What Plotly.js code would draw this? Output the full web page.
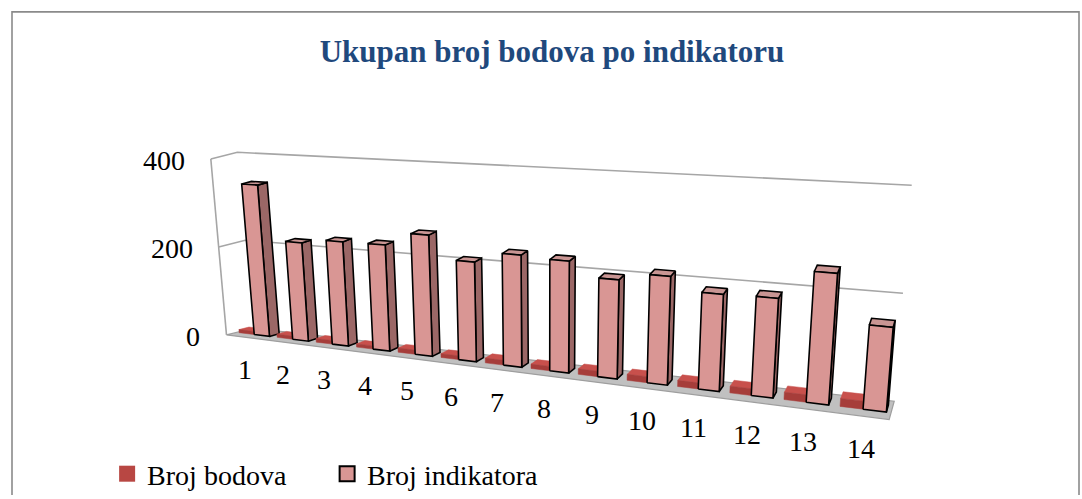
<!DOCTYPE html>
<html><head><meta charset="utf-8">
<script src="https://cdn.plot.ly/plotly-3.0.1.min.js"></script>
<style>html,body{margin:0;padding:0;background:#fff}#chart{width:1082px;height:499px}
.legendtext{font-family:'Liberation Serif','Times New Roman',serif !important;}</style>
</head><body><div id="chart"></div>
<script>
// ---- data ----
const categories = ['1','2','3','4','5','6','7','8','9','10','11','12','13','14'];
const brojBodova = [7,7,8,7,9,8,10,9,11,12,12,13,14,15];
const brojIndikatora = [340,218,228,229,258,209,232,228,199,215,189,191,248,157];
const valueTicks = [0,200,400];
const seriesNames = ['Broj bodova','Broj indikatora'];
const chartTitle = 'Ukupan broj bodova po indikatoru';

// ---- 3-D perspective helper (layout only) ----
const R = 1.237;
function warp(t){ return t/(R-(R-1)*t); }
const F1=[243.6,339.8], FN=[859.6,419.2];
const DL=[26,-7], DR=[6,-18];
const VL=[-0.037,-0.446], VR=[0.04,-0.54];
const N = categories.length;
function proj(u,d,v){
  const G = warp((u-1)/(N-1));
  const L=(a,b)=>a+(b-a)*G;
  return [L(F1[0],FN[0]) + d*L(DL[0],DR[0]) + v*L(VL[0],VR[0]),
          L(F1[1],FN[1]) + d*L(DL[1],DR[1]) + v*L(VL[1],VR[1])];
}
const uL=0.55, uR=N+0.5, BW=0.4, D0=0.38, D1=0.76;
const vMax = valueTicks[valueTicks.length-1];

function poly(pts){ const x=[],y=[]; pts.forEach(p=>{const q=proj(p[0],p[1],p[2]);x.push(q[0]);y.push(q[1]);}); x.push(x[0]); y.push(y[0]); return [x,y]; }
function faces(vals, offs){
  const f={front:{x:[],y:[]},top:{x:[],y:[]},side:{x:[],y:[]}};
  vals.forEach((h,i)=>{
    const u0=i+1+offs, u1=u0+BW;
    const add=(k,pts)=>{const [x,y]=poly(pts); f[k].x.push(...x,null); f[k].y.push(...y,null);};
    add('side',[[u1,D0,0],[u1,D1,0],[u1,D1,h],[u1,D0,h]]);
    add('top',[[u0,D0,h],[u1,D0,h],[u1,D1,h],[u0,D1,h]]);
    add('front',[[u0,D0,0],[u1,D0,0],[u1,D0,h],[u0,D0,h]]);
  });
  return f;
}
const red = faces(brojBodova, -BW+0.02);
const pink = faces(brojIndikatora, 0.02);

const traces = [];
// floor
(function(){
  const [fx,fy]=poly([[uL,0,0],[uR,0,0],[uR,1,0],[uL,1,0]]);
  traces.push({x:fx,y:fy,mode:'lines',fill:'toself',fillcolor:'#c0c0c0',line:{color:'#9e9e9e',width:1.2},showlegend:false,hoverinfo:'skip'});
})();
// walls / gridlines
(function(){
  const gx=[],gy=[];
  const push=(pts)=>{pts.forEach(p=>{const q=proj(p[0],p[1],p[2]);gx.push(q[0]);gy.push(q[1]);}); gx.push(null); gy.push(null);};
  push([[uL,0,0],[uL,0,vMax]]);
  valueTicks.filter(v=>v>0).forEach(v=>push([[uL,0,v],[uL,1,v],[uR,1,v]]));
  traces.unshift({x:gx,y:gy,mode:'lines',line:{color:'#a6a6a6',width:1.6},showlegend:false,hoverinfo:'skip'});
})();
const sty = {
  redside:'#8a3431', redtop:'#c8504c', redfront:'#a63d3a',
  pinkside:'#9b6766', pinktop:'#c99593', pinkfront:'#d99694'
};
['side','top','front'].forEach(k=>{
  traces.push({x:red[k].x,y:red[k].y,mode:'lines',fill:'toself',fillcolor:sty['red'+k],line:{color:sty['red'+k],width:0.5},showlegend:false,hoverinfo:'skip'});
  traces.push({x:pink[k].x,y:pink[k].y,mode:'lines',fill:'toself',fillcolor:sty['pink'+k],line:{color:'#000',width:1.6},showlegend:false,hoverinfo:'skip'});
});
// legend entries
traces.push({x:[null],y:[null],mode:'markers',name:seriesNames[0],marker:{symbol:'square',size:16,color:'#b84743'}});
traces.push({x:[null],y:[null],mode:'markers',name:seriesNames[1],marker:{symbol:'square',size:15,color:'#d99694',line:{color:'#000',width:2}}});

// annotations: value ticks and category labels
const annotations = [];
valueTicks.forEach(v=>{
  const p=proj(uL,0,v);
  annotations.push({x:p[0]-24,y:p[1]+2,xref:'x',yref:'y',text:String(v),showarrow:false,xanchor:'right',yanchor:'middle',font:{family:'Liberation Serif',size:28,color:'#000'}});
});
categories.forEach((c,i)=>{
  const p=proj(i+1,0,0);
  annotations.push({x:p[0]+1,y:p[1]+33,xref:'x',yref:'y',text:c,showarrow:false,xanchor:'center',yanchor:'middle',font:{family:'Liberation Serif',size:28,color:'#000'}});
});

const layout = {
  width:1082,height:499,margin:{l:0,r:0,t:0,b:0},
  paper_bgcolor:'#fff',plot_bgcolor:'#fff',
  font:{family:'Times New Roman'},
  xaxis:{range:[0,1082],visible:false,fixedrange:true},
  yaxis:{range:[499,0],visible:false,fixedrange:true},
  title:{text:'<b>'+chartTitle+'</b>',font:{family:'Liberation Serif',size:31,color:'#1f497d'},x:552/1082,xanchor:'center',y:1-52/499,yanchor:'middle',xref:'paper',yref:'paper'},
  showlegend:true,
  legend:{orientation:'h',x:0.099,xanchor:'left',y:1-478/499,yanchor:'middle',font:{family:'Times New Roman',size:28,color:'#000'},bgcolor:'rgba(0,0,0,0)',entrywidth:175,entrywidthmode:'pixels'},
  annotations:annotations,
  shapes:[{type:'rect',xref:'x',yref:'y',x0:12,y0:12,x1:1079,y1:520,line:{color:'#8a8a8a',width:1.6}}]
};
Plotly.newPlot('chart',traces,layout,{staticPlot:true,displayModeBar:false});
</script></body></html>
